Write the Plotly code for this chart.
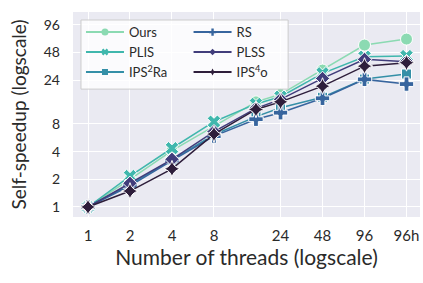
import plotly.graph_objects as go

threads = [1, 2, 4, 8, 16, 24, 48, 96, 192]
tick_vals = [1, 2, 4, 8, 24, 48, 96, 192]
tick_text = ["1", "2", "4", "8", "24", "48", "96", "96h"]
y_ticks = [1, 2, 4, 8, 24, 48, 96]

ours = [1, 2.0, 4.1, 7.6, 13.9, 16.8, 30.8, 57.6, 66.9]
plis = [1, 2.17, 4.35, 8.45, 13.2, 15.8, 28.4, 43.0, 43.7]
ips2ra = [1, 1.75, 3.25, 6.1, 9.6, 12.0, 15.6, 24.6, 27.9]
rs = [1, 1.7, 3.2, 5.9, 9.0, 10.6, 15.2, 24.4, 21.7]
plss = [1, 1.81, 3.3, 6.6, 11.8, 14.8, 25.0, 40.3, 38.0]
ips4o = [1, 1.49, 2.6, 6.2, 11.5, 13.9, 20.6, 34.0, 37.0]

names = ["Ours", "PLIS", "IPS<sup>2</sup>Ra", "RS", "PLSS", "IPS<sup>4</sup>o"]
series = [ours, plis, ips2ra, rs, plss, ips4o]
colors = ["#8bdab2", "#40b7ad", "#348fa7", "#37659e", "#413d7b", "#2e1e3b"]
symbols = ["circle", "x", "square", "cross", "diamond", "star-diamond"]
sizes = [12, 12, 10, 12, 11, 12]
leg_sizes = [7, 6, 6, 6, 5, 5]
legends = ["legend", "legend", "legend", "legend2", "legend2", "legend2"]

fig = go.Figure()
for n, s, c, sym, sz in zip(names, series, colors, symbols, sizes):
    fig.add_trace(go.Scatter(
        x=threads, y=s, name=n, mode="lines+markers", showlegend=False,
        line=dict(color=c, width=1.5),
        marker=dict(symbol=sym, size=sz, color=c, line=dict(color="white", width=1)),
    ))
# legend entries with small markers
for n, c, sym, lsz, lg in zip(names, colors, symbols, leg_sizes, legends):
    fig.add_trace(go.Scatter(
        x=[None], y=[None], name=n, mode="lines+markers", legend=lg,
        line=dict(color=c, width=2),
        marker=dict(symbol=sym, size=lsz, color=c, line=dict(width=0)),
    ))

font = "Lato, DejaVu Sans, sans-serif"
fig.update_layout(
    width=423, height=283,
    margin=dict(l=73, r=3, t=12, b=66),
    paper_bgcolor="white",
    plot_bgcolor="#eaeaf2",
    font=dict(family=font, size=14, color="#2a2a2a"),
    xaxis=dict(
        type="log", range=[-0.1075, 2.380], automargin=False,
        tickvals=tick_vals, ticktext=tick_text, tickfont=dict(size=15),
        gridcolor="white", gridwidth=1.2, zeroline=False, showline=False,
        ticklabelstandoff=8,
        title=dict(text="Number of threads (logscale)", font=dict(size=21), standoff=2),
    ),
    yaxis=dict(
        type="log", range=[-0.109, 2.12], automargin=False,
        tickvals=y_ticks, ticktext=[str(v) for v in y_ticks], tickfont=dict(size=14),
        gridcolor="white", gridwidth=1.2, zeroline=False, showline=False,
        ticklabelstandoff=12,
        title=dict(text="Self-speedup (logscale)", font=dict(size=19), standoff=12),
    ),
    legend=dict(
        x=0.023, y=0.975, xanchor="left", yanchor="top",
        bgcolor="rgba(0,0,0,0)", borderwidth=0, itemwidth=38,
        font=dict(size=13), tracegroupgap=0,
    ),
    legend2=dict(
        x=0.333, y=0.975, xanchor="left", yanchor="top",
        bgcolor="rgba(0,0,0,0)", borderwidth=0, itemwidth=38,
        font=dict(size=13), tracegroupgap=0,
    ),
    shapes=[dict(
        type="rect", xref="paper", yref="paper",
        x0=0.023, x1=0.62, y0=0.624, y1=0.961,
        fillcolor="rgba(255,255,255,0.8)", line=dict(color="#cccccc", width=1),
        layer="above",
    )],
)

fig.write_html("out.html", config={"displayModeBar": False},
               post_script="document.body.style.margin='0';")
